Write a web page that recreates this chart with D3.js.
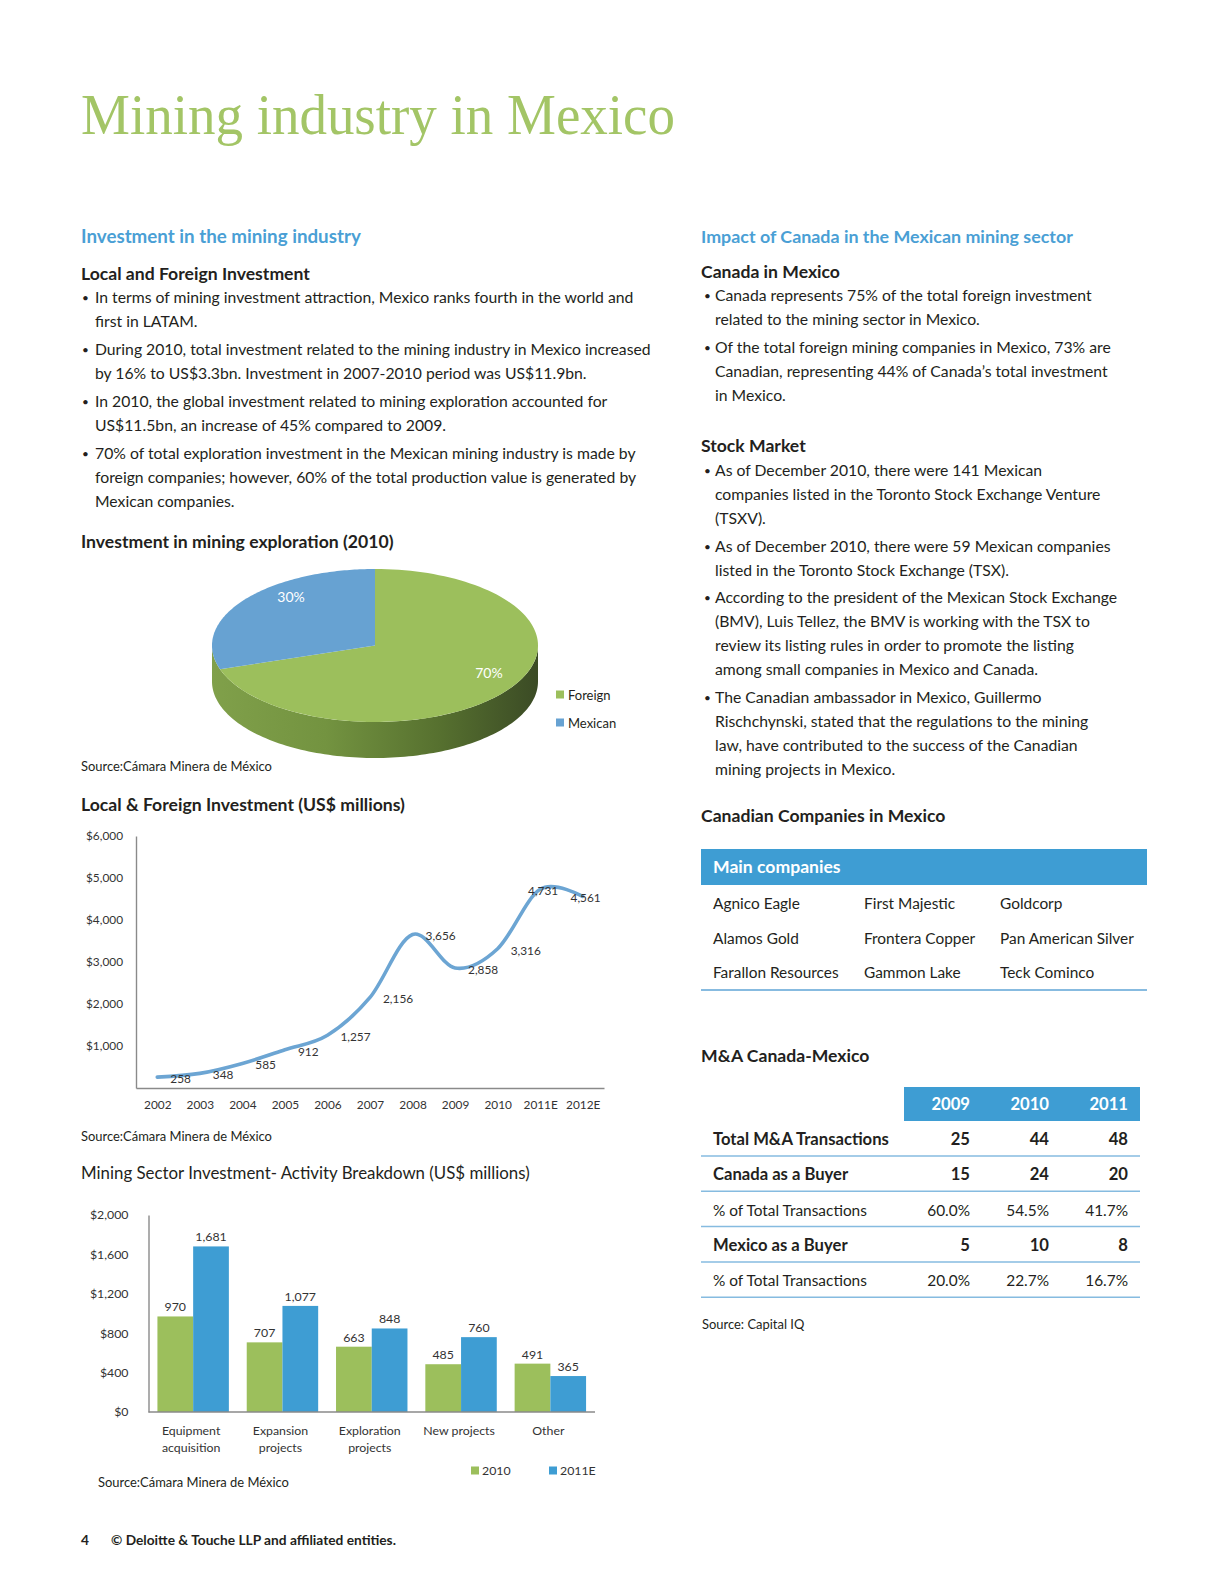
<!DOCTYPE html>
<html><head><meta charset="utf-8">
<script src="https://cdn.jsdelivr.net/npm/d3@7"></script>
<style>body{margin:0;background:#fff}</style>
</head><body>
<svg id="page" width="1224" height="1584" xmlns="http://www.w3.org/2000/svg"></svg>
<script>
// ---------------- DATA ----------------
const pieLabels = ["Foreign", "Mexican"];
const pieValues = [70, 30];

const lineYears = ["2002","2003","2004","2005","2006","2007","2008","2009","2010","2011E","2012E"];
const lineValues = [258, 348, 585, 912, 1257, 2156, 3656, 2858, 3316, 4731, 4561];
const lineTicks = [1000, 2000, 3000, 4000, 5000, 6000];

const barCategories = ["Equipment acquisition", "Expansion projects", "Exploration projects", "New projects", "Other"];
const barCategoryLines = [["Equipment","acquisition"], ["Expansion","projects"], ["Exploration","projects"], ["New projects"], ["Other"]];
const barSeries = ["2010", "2011E"];
const bar2010 = [970, 707, 663, 485, 491];
const bar2011E = [1681, 1077, 848, 760, 365];
const barTicks = [0, 400, 800, 1200, 1600, 2000];

const companyRows = [
  ["Agnico Eagle", "First Majestic", "Goldcorp"],
  ["Alamos Gold", "Frontera Copper", "Pan American Silver"],
  ["Farallon Resources", "Gammon Lake", "Teck Cominco"]
];
const maYears = ["2009", "2010", "2011"];
const maLabels = ["Total M&A Transactions", "Canada as a Buyer", "% of Total Transactions", "Mexico as a Buyer", "% of Total Transactions"];
const maValues = [["25","44","48"], ["15","24","20"], ["60.0%","54.5%","41.7%"], ["5","10","8"], ["20.0%","22.7%","16.7%"]];

const leftParas = [
  ["In terms of mining investment attraction, Mexico ranks fourth in the world and", "first in LATAM."],
  ["During 2010, total investment related to the mining industry in Mexico increased", "by 16% to US$3.3bn. Investment in 2007-2010 period was US$11.9bn."],
  ["In 2010, the global investment related to mining exploration accounted for", "US$11.5bn, an increase of 45% compared to 2009."],
  ["70% of total exploration investment in the Mexican mining industry is made by", "foreign companies; however, 60% of the total production value is generated by", "Mexican companies."]
];
const canadaParas = [
  ["Canada represents 75% of the total foreign investment", "related to the mining sector in Mexico."],
  ["Of the total foreign mining companies in Mexico, 73% are", "Canadian, representing 44% of Canada\u2019s total investment", "in Mexico."]
];
const stockParas = [
  ["As of December 2010, there were 141 Mexican", "companies listed in the Toronto Stock Exchange Venture", "(TSXV)."],
  ["As of December 2010, there were 59 Mexican companies", "listed in the Toronto Stock Exchange (TSX)."],
  ["According to the president of the Mexican Stock Exchange", "(BMV), Luis Tellez, the BMV is working with the TSX to", "review its listing rules in order to promote the listing", "among small companies in Mexico and Canada."],
  ["The Canadian ambassador in Mexico, Guillermo", "Rischchynski, stated that the regulations to the mining", "law, have contributed to the success of the Canadian", "mining projects in Mexico."]
];

// ---------------- STYLE ----------------
const SANS = "Lato, 'Open Sans', 'Noto Sans', sans-serif";
const SERIF = "'Liberation Serif', 'DejaVu Serif', serif";
const INK = "#231f20";
const GREEN = "#9cbf5c";
const BLUE = "#3e9dd3";
const PIEBLUE = "#67a2d2";
const HEADBLUE = "#4a9fd5";
const TITLEGREEN = "#a3c566";

const svg = d3.select("#page");
svg.append("rect").attr("width", 1224).attr("height", 1584).attr("fill", "#fff");

const measurer = svg.append("text").attr("x", -2000).attr("y", -2000);
function fit(str, weight, family, target) {
  measurer.attr("font-family", family).attr("font-weight", weight).attr("font-size", 100).text(str);
  const w = measurer.node().getComputedTextLength();
  return 100 * target / w;
}
function T(g, x, y, s, o = {}) {
  return g.append("text").attr("x", x).attr("y", y)
    .attr("font-family", o.family || SANS)
    .attr("font-size", o.size || 15)
    .attr("font-weight", o.weight || "normal")
    .attr("fill", o.fill || INK)
    .attr("text-anchor", o.anchor || "start")
    .text(s);
}

const bodySize = fit(leftParas[1][0], "normal", SANS, 556);
const blueHeadSize = fit("Investment in the mining industry", "bold", SANS, 280);
const blueHeadSize2 = fit("Impact of Canada in the Mexican mining sector", "bold", SANS, 372);
const subHeadSize = fit("Local and Foreign Investment", "bold", SANS, 229);
const chartTitleSize = fit("Local & Foreign Investment (US$ millions)", "bold", SANS, 324);
const barTitleSize = fit("Mining Sector Investment- Activity Breakdown (US$ millions)", "normal", SANS, 449);
const sourceSize = fit("Source:Cámara Minera de México", "normal", SANS, 191);
const axisSize = fit("$6,000", "normal", SANS, 37);
const tableSize = fit("Pan American Silver", "normal", SANS, 134);
const tableBoldSize = fit("Total M&A Transactions", "bold", SANS, 176);
const footSize = fit("\u00a9 Deloitte & Touche LLP and affiliated entities.", "bold", SANS, 285);

const page = svg.append("g");

// ---------------- TITLE ----------------
page.append("text").attr("x", 81).attr("y", 134)
  .attr("font-family", SERIF).attr("font-size", 58).attr("fill", TITLEGREEN)
  .attr("textLength", 594).attr("lengthAdjust", "spacingAndGlyphs")
  .text("Mining industry in Mexico");

// ---------------- TEXT COLUMNS ----------------
function bullets(g, paras, bx, tx, y0, lh, gap) {
  let y = y0;
  paras.forEach(p => {
    T(g, bx, y - 1, "\u2022", { size: bodySize * 0.75 });
    p.forEach(line => { T(g, tx, y, line, { size: bodySize }); y += lh; });
    y += gap;
  });
}
T(page, 81, 243, "Investment in the mining industry", { size: blueHeadSize, weight: "bold", fill: HEADBLUE });
T(page, 81, 280, "Local and Foreign Investment", { size: subHeadSize, weight: "bold" });
bullets(page, leftParas, 82, 95, 303, 24, 4);

T(page, 701, 243, "Impact of Canada in the Mexican mining sector", { size: blueHeadSize2, weight: "bold", fill: HEADBLUE });
T(page, 701, 278, "Canada in Mexico", { size: subHeadSize, weight: "bold" });
bullets(page, canadaParas, 704, 715, 301, 24, 4);
T(page, 701, 452, "Stock Market", { size: subHeadSize, weight: "bold" });
bullets(page, stockParas, 704, 715, 476, 24.1, 3.3);

// ---------------- PIE (3D) ----------------
T(page, 81, 548, "Investment in mining exploration (2010)", { size: chartTitleSize, weight: "bold" });
const pcx = 375, pcy = 645.5, prx = 163, pry = 76.5, depth = 36;
const pieArcs = d3.pie().sort(null)(pieValues);
const defs = svg.append("defs");
const gGreen = defs.append("linearGradient").attr("id", "sideGreen")
  .attr("gradientUnits", "userSpaceOnUse").attr("x1", pcx - prx).attr("x2", pcx + prx).attr("y1", 0).attr("y2", 0);
[[0, "#80a04a"], [0.35, "#739340"], [0.7, "#56702f"], [1, "#3b4b25"]].forEach(s =>
  gGreen.append("stop").attr("offset", s[0]).attr("stop-color", s[1]));
const faceFill = [GREEN, PIEBLUE];
function ept(a, kx = 1, ky = kx) { return [pcx + prx * kx * Math.sin(a), pcy - pry * ky * Math.cos(a)]; }
const pieG = page.append("g");
// front wall of the pie (visible half of the cylinder)
{
  const a0 = Math.PI / 2, a1 = 3 * Math.PI / 2;
  const top = [], bot = [];
  for (let j = 0; j <= 120; j++) {
    const p = ept(a0 + (a1 - a0) * j / 120);
    top.push(p); bot.push([p[0], p[1] + depth]);
  }
  pieG.append("path").attr("d", "M" + top.join("L") + "L" + bot.reverse().join("L") + "Z")
    .attr("fill", "url(#sideGreen)");
}
pieArcs.forEach((d, i) => {
  const pts = [[pcx, pcy]];
  for (let j = 0; j <= 120; j++) pts.push(ept(d.startAngle + (d.endAngle - d.startAngle) * j / 120));
  pieG.append("path").attr("d", "M" + pts.join("L") + "Z").attr("fill", faceFill[i]);
});
pieArcs.forEach((d, i) => {
  const p = ept((d.startAngle + d.endAngle) / 2, 0.75, 0.84);
  T(pieG, p[0] + 15, p[1] - 10.7 + 5, d.value + "%", { size: 14, fill: "#fff", anchor: "middle" });
});
pieLabels.forEach((lab, i) => {
  const y = 695 + i * 28;
  page.append("rect").attr("x", 556).attr("y", y - 4.5).attr("width", 8).attr("height", 8).attr("fill", faceFill[i]);
  T(page, 568, y + 4.5, lab, { size: 13 });
});
T(page, 81, 771, "Source:Cámara Minera de México", { size: sourceSize });

// ---------------- LINE CHART ----------------
T(page, 81, 811, "Local & Foreign Investment (US$ millions)", { size: chartTitleSize, weight: "bold" });
const lx = d3.scalePoint().domain(lineYears).range([136, 604]).padding(0.5);
const ly = d3.scaleLinear().domain([0, 6000]).range([1088, 836]);
const money = d => "$" + d3.format(",")(d);
const lineG = page.append("g");
const yAx = lineG.append("g").attr("transform", "translate(136,0)")
  .call(d3.axisLeft(ly).tickValues(lineTicks).tickFormat(money).tickSize(0).tickSizeOuter(0).tickPadding(13));
const xAx = lineG.append("g").attr("transform", "translate(0,1088)")
  .call(d3.axisBottom(lx).tickSize(0).tickSizeOuter(0).tickPadding(13));
[yAx, xAx].forEach(a => {
  a.select(".domain").attr("stroke", "#8a8a8a").attr("stroke-width", 1.4);
  a.selectAll("text").attr("font-family", SANS).attr("font-size", axisSize).attr("fill", "#333");
});
lineG.append("path").datum(lineValues.map((v, i) => [lx(lineYears[i]), ly(v)]))
  .attr("d", d3.line().curve(d3.curveCardinal.tension(0)))
  .attr("fill", "none").attr("stroke", "#6ca5d3").attr("stroke-width", 3.6).attr("stroke-linecap", "round");
lineValues.forEach((v, i) => {
  const px = lx(lineYears[i]), py = ly(v);
  const last = i >= lineValues.length - 2;
  T(lineG, last ? px + 18 : px + 13, py + 6, d3.format(",")(v),
    { size: axisSize, fill: "#333", anchor: last ? "end" : "start" });
});
T(page, 81, 1141, "Source:Cámara Minera de México", { size: sourceSize });

// ---------------- BAR CHART ----------------
T(page, 81, 1179, "Mining Sector Investment- Activity Breakdown (US$ millions)", { size: barTitleSize, fill: INK });
const bx0 = d3.scaleBand().domain(barCategories).range([148.5, 595]).paddingInner(0.2).paddingOuter(0.1);
const bx1 = d3.scaleBand().domain(barSeries).range([0, bx0.bandwidth()]);
const by = d3.scaleLinear().domain([0, 2000]).range([1412, 1215]);
const barG = page.append("g");
const seriesVals = [bar2010, bar2011E];
const seriesCol = [GREEN, BLUE];
barSeries.forEach((s, si) => {
  barCategories.forEach((c, ci) => {
    const v = seriesVals[si][ci];
    const x = bx0(c) + bx1(s);
    barG.append("rect").attr("x", x).attr("y", by(v)).attr("width", bx1.bandwidth()).attr("height", by(0) - by(v))
      .attr("fill", seriesCol[si]);
    T(barG, x + bx1.bandwidth() / 2, by(v) - 5, d3.format(",")(v), { size: axisSize + 0.5, anchor: "middle", fill: "#333" });
  });
});
const byAx = barG.append("g").attr("transform", "translate(148.5,0)")
  .call(d3.axisLeft(by).tickValues(barTicks).tickFormat(money).tickSize(0).tickSizeOuter(0).tickPadding(20));
byAx.select(".domain").attr("stroke", "#8a8a8a").attr("stroke-width", 1.4);
byAx.selectAll("text").attr("font-family", SANS).attr("font-size", axisSize + 0.5).attr("fill", "#333");
barG.append("line").attr("x1", 148.5).attr("x2", 595).attr("y1", by(0)).attr("y2", by(0))
  .attr("stroke", "#8a8a8a").attr("stroke-width", 1.4);
barCategories.forEach((c, ci) => {
  barCategoryLines[ci].forEach((ln, li) => {
    T(barG, bx0(c) + bx0.bandwidth() / 2 - 2, 1435 + li * 17, ln, { size: axisSize + 0.5, anchor: "middle", fill: "#333" });
  });
});
barSeries.forEach((s, si) => {
  const x = 471 + si * 78;
  barG.append("rect").attr("x", x).attr("y", 1466.5).attr("width", 8).attr("height", 8).attr("fill", seriesCol[si]);
  T(barG, x + 11, 1475, s, { size: axisSize + 0.5, fill: "#333" });
});
T(page, 98, 1487, "Source:Cámara Minera de México", { size: sourceSize });

// ---------------- COMPANIES TABLE ----------------
T(page, 701, 822, "Canadian Companies in Mexico", { size: subHeadSize, weight: "bold" });
page.append("rect").attr("x", 701).attr("y", 849).attr("width", 446).attr("height", 36).attr("fill", BLUE);
T(page, 713, 873, "Main companies", { size: subHeadSize, weight: "bold", fill: "#fff" });
const compCols = [713, 864, 1000];
companyRows.forEach((row, ri) => {
  row.forEach((name, ci) => T(page, compCols[ci], 909 + ri * 34.7, name, { size: tableSize }));
});
page.append("line").attr("x1", 701).attr("x2", 1147).attr("y1", 990).attr("y2", 990)
  .attr("stroke", "#5fa5d6").attr("stroke-width", 1.5);

// ---------------- M&A TABLE ----------------
T(page, 701, 1062, "M&A Canada-Mexico", { size: subHeadSize, weight: "bold" });
page.append("rect").attr("x", 904).attr("y", 1087).attr("width", 236).attr("height", 34).attr("fill", BLUE);
const maCols = [970, 1049, 1128];
maYears.forEach((y, i) => T(page, maCols[i], 1110, y, { size: tableBoldSize, weight: "bold", fill: "#fff", anchor: "end" }));
maLabels.forEach((lab, ri) => {
  const y = 1145 + ri * 35.3;
  const bold = !lab.startsWith("%");
  const sz = bold ? tableBoldSize : tableSize;
  T(page, 713, y, lab, { size: sz, weight: bold ? "bold" : "normal" });
  maValues[ri].forEach((v, ci) => T(page, maCols[ci], y, v, { size: sz, weight: bold ? "bold" : "normal", anchor: "end" }));
  page.append("line").attr("x1", 701).attr("x2", 1140).attr("y1", y + 11).attr("y2", y + 11)
    .attr("stroke", "#86bbe0").attr("stroke-width", 1.5);
});
T(page, 702, 1329, "Source: Capital IQ", { size: sourceSize });

// ---------------- FOOTER ----------------
T(page, 81, 1545, "4", { size: footSize, weight: "bold" });
T(page, 111, 1545, "\u00a9 Deloitte & Touche LLP and affiliated entities.", { size: footSize, weight: "bold" });

measurer.remove();
</script>
</body></html>
